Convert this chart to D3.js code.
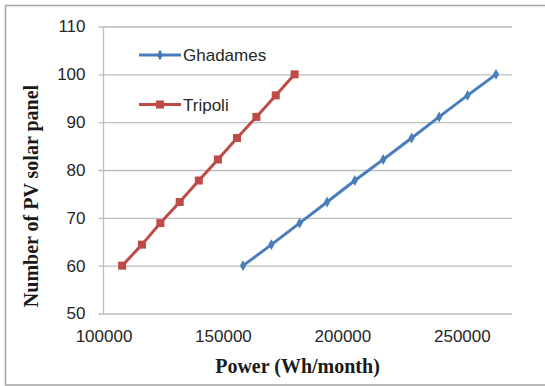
<!DOCTYPE html>
<html>
<head>
<meta charset="utf-8">
<script src="https://cdn.jsdelivr.net/npm/d3@7"></script>
<style>
  html, body { margin: 0; padding: 0; background: #fff; }
  svg { display: block; }
</style>
</head>
<body>
<svg id="chart" width="545" height="386"></svg>
<script>
// Number of PV panels against monthly power for two Libyan sites
const panels = [60, 64.4, 68.9, 73.3, 77.8, 82.2, 86.7, 91.1, 95.6, 100];
const ghadamesPower = [158400, 170300, 182100, 193600, 205200, 217100, 229000, 240500, 252400, 264300];
const tripoliPower = [107800, 116100, 123800, 131900, 139900, 147900, 155900, 164000, 172100, 180000];
const seriesNames = ["Ghadames", "Tripoli"];
const seriesColors = ["#4A7EBB", "#BE4B48"];
const xTicks = [100000, 150000, 200000, 250000];
const yTicks = [50, 60, 70, 80, 90, 100, 110];
const xTitle = "Power (Wh/month)";
const yTitle = "Number of PV solar panel";

const svg = d3.select("#chart");
const W = 545, H = 386;
const plot = { left: 103.5, top: 26.5, right: 512, bottom: 313.5 };

// outer frame
svg.append("rect")
  .attr("x", 5.5).attr("y", 5.5)
  .attr("width", W + 10).attr("height", 379.5)
  .attr("fill", "#fff")
  .attr("stroke", "#a8a8a8").attr("stroke-width", 1.6);

const x = d3.scaleLinear().domain([100000, 271000]).range([plot.left, plot.right]);
const y = d3.scaleLinear().domain([50, 110]).range([plot.bottom, plot.top]);

const gridColor = "#bebebe";
const labelFont = "'Liberation Sans', Arial, sans-serif";
const titleFont = "'Liberation Serif', 'Times New Roman', serif";

// horizontal gridlines with short outside ticks
const yAxis = d3.axisLeft(y)
  .tickValues(yTicks)
  .tickSize(-(plot.right - plot.left))
  .tickPadding(18)
  .tickFormat(d3.format("d"));
const gy = svg.append("g")
  .attr("transform", `translate(${plot.left},0)`)
  .call(yAxis);
gy.select(".domain").remove();
gy.selectAll(".tick line")
  .attr("x1", -5)
  .attr("stroke", gridColor).attr("stroke-width", 1.3);
gy.selectAll(".tick text")
  .attr("x", -18)
  .attr("fill", "#262626")
  .style("font-family", labelFont).style("font-size", "17px");

// vertical axis line
svg.append("line")
  .attr("x1", plot.left).attr("x2", plot.left)
  .attr("y1", plot.top).attr("y2", plot.bottom)
  .attr("stroke", gridColor).attr("stroke-width", 1.3);

// x axis labels
const xAxis = d3.axisBottom(x)
  .tickValues(xTicks)
  .tickSize(0)
  .tickPadding(16)
  .tickFormat(d3.format("d"));
const gx = svg.append("g")
  .attr("transform", `translate(0,${plot.bottom})`)
  .call(xAxis);
gx.select(".domain").remove();
gx.selectAll(".tick text")
  .attr("fill", "#262626")
  .style("font-family", labelFont).style("font-size", "17px");

// axis titles
svg.append("text")
  .attr("x", 297.5).attr("y", 373)
  .attr("text-anchor", "middle")
  .style("font-family", titleFont).style("font-size", "20px").style("font-weight", "bold")
  .attr("fill", "#1a1a1a")
  .text(xTitle);
svg.append("text")
  .attr("transform", "translate(38,196) rotate(-90)")
  .attr("text-anchor", "middle")
  .style("font-family", titleFont).style("font-size", "20px").style("font-weight", "bold")
  .attr("fill", "#1a1a1a")
  .text(yTitle);

// series
const series = [
  { name: seriesNames[0], color: seriesColors[0], shape: "diamond",
    points: ghadamesPower.map((p, i) => ({ p, n: panels[i] })) },
  { name: seriesNames[1], color: seriesColors[1], shape: "square",
    points: tripoliPower.map((p, i) => ({ p, n: panels[i] })) }
];

const line = d3.line().x(d => x(d.p)).y(d => y(d.n));

function drawMarker(g, shape, color, cx, cy) {
  if (shape === "square") {
    g.append("rect")
      .attr("x", cx - 4).attr("y", cy - 4)
      .attr("width", 8).attr("height", 8)
      .attr("fill", color);
  } else {
    g.append("path")
      .attr("d", d3.symbol(d3.symbolDiamond, 34)())
      .attr("transform", `translate(${cx},${cy})`)
      .attr("fill", color);
  }
}

series.forEach(s => {
  svg.append("path")
    .datum(s.points)
    .attr("d", line)
    .attr("fill", "none")
    .attr("stroke", s.color)
    .attr("stroke-width", 3)
    .attr("stroke-linejoin", "round");
  const mg = svg.append("g");
  s.points.forEach(d => drawMarker(mg, s.shape, s.color, x(d.p), y(d.n)));
});

// legend
const legendY = [55, 104.5];
series.forEach((s, i) => {
  const g = svg.append("g");
  g.append("line")
    .attr("x1", 139).attr("x2", 181)
    .attr("y1", legendY[i]).attr("y2", legendY[i])
    .attr("stroke", s.color).attr("stroke-width", 3);
  drawMarker(g, s.shape, s.color, 160, legendY[i]);
  g.append("text")
    .attr("x", 183).attr("y", legendY[i])
    .attr("dy", "0.36em")
    .attr("fill", "#262626")
    .style("font-family", labelFont).style("font-size", "17px")
    .text(s.name);
});
</script>
</body>
</html>
